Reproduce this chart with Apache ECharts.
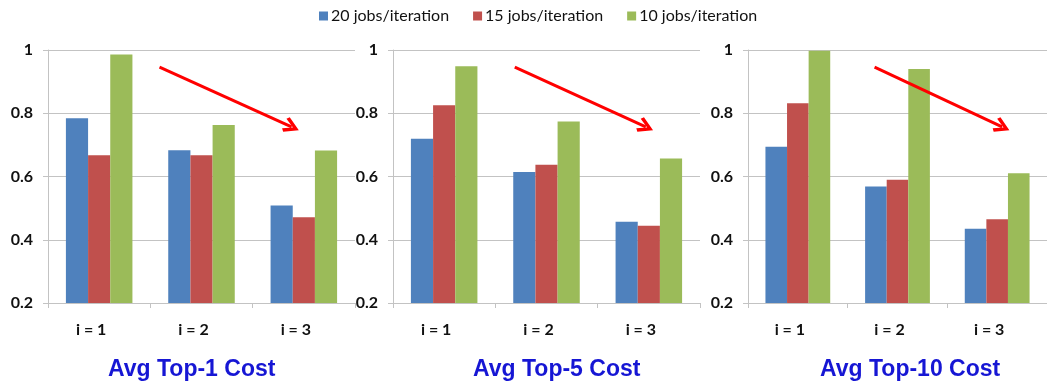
<!DOCTYPE html>
<html>
<head>
<meta charset="utf-8">
<script src="https://cdn.jsdelivr.net/npm/echarts@6/dist/echarts.min.js"></script>
<style>
  html, body { margin: 0; padding: 0; background: #ffffff; }
  #chart { width: 1047px; height: 387px; }
</style>
</head>
<body>
<div id="chart"></div>
<script>
// Categories (iterations) and y-axis range
const categories = ['i = 1', 'i = 2', 'i = 3'];
const yMin = 0.2, yMax = 1, yStep = 0.2;

// Series names
const seriesNames = ['20 jobs/iteration', '15 jobs/iteration', '10 jobs/iteration'];
const seriesColors = ['#4f81bd', '#c0504d', '#9bbb59'];

// Panel titles
const panelTitles = ['Avg Top-1 Cost', 'Avg Top-5 Cost', 'Avg Top-10 Cost'];

// Average cost values per panel: [20 jobs, 15 jobs, 10 jobs], each over i = 1..3
const top1Jobs20 = [0.784, 0.683, 0.508];
const top1Jobs15 = [0.667, 0.667, 0.471];
const top1Jobs10 = [0.986, 0.763, 0.682];

const top5Jobs20 = [0.719, 0.614, 0.457];
const top5Jobs15 = [0.825, 0.637, 0.444];
const top5Jobs10 = [0.949, 0.774, 0.657];

const top10Jobs20 = [0.694, 0.568, 0.435];
const top10Jobs15 = [0.832, 0.590, 0.465];
const top10Jobs10 = [0.998, 0.940, 0.610];

const panelData = [
  [top1Jobs20, top1Jobs15, top1Jobs10],
  [top5Jobs20, top5Jobs15, top5Jobs10],
  [top10Jobs20, top10Jobs15, top10Jobs10]
];

// Trend arrows per panel, in data units (x: 0..3 across the categories, y: cost)
const trendArrows = [
  [[1.09, 0.946], [2.38, 0.757]],
  [[1.19, 0.946], [2.47, 0.757]],
  [[1.27, 0.946], [2.55, 0.757]]
];

// Layout
const gridLefts = [48, 393, 748];
const gridWidth = 307;
const gridTop = 50;
const gridHeight = 253;
const titleLefts = [108, 473, 820];

const labelFont = 'Lato, "Open Sans", sans-serif';
const gridColor = '#c3c3c3';

// Open chevron arrowhead pointing up (rotated along the line by ECharts)
const chevron = 'path://M5,0 L10,8 L8.3,9.4 L5,3.8 L1.7,9.4 L0,8 Z';

const grids = [], xAxes = [], yAxes = [], series = [], titles = [];

gridLefts.forEach(function (left, p) {
  grids.push({ left: left, top: gridTop, width: gridWidth, height: gridHeight });

  xAxes.push({
    type: 'category',
    gridIndex: p,
    data: categories,
    axisLine: { lineStyle: { color: gridColor, width: 1 } },
    axisTick: { show: true, length: 5, lineStyle: { color: gridColor } },
    axisLabel: {
      fontFamily: labelFont, fontWeight: 'bold', fontSize: 16, color: '#111111',
      margin: 19, padding: [0, 16, 0, 0]
    }
  });

  yAxes.push({
    type: 'value',
    gridIndex: p,
    min: yMin, max: yMax, interval: yStep,
    axisLine: { show: true, lineStyle: { color: gridColor } },
    axisTick: { show: true, length: 5, lineStyle: { color: gridColor } },
    splitLine: { lineStyle: { color: gridColor, width: 1 } },
    axisLabel: {
      fontFamily: labelFont, fontWeight: 'bold', fontSize: 16, color: '#111111',
      margin: 15
    }
  });

  panelData[p].forEach(function (values, s) {
    series.push({
      name: seriesNames[s],
      type: 'bar',
      xAxisIndex: p,
      yAxisIndex: p,
      data: values,
      barGap: '0%',
      barCategoryGap: '35%',
      itemStyle: { color: seriesColors[s] },
      emphasis: { disabled: true }
    });
  });

  titles.push({
    text: panelTitles[p],
    left: titleLefts[p],
    top: 358,
    padding: 0,
    textStyle: {
      fontFamily: '"Liberation Sans", Arial, sans-serif',
      fontWeight: 'bold', fontSize: 23, color: '#1616d4'
    }
  });
});

// Hidden value x axes (0..3 spans the three categories) for the trend arrows
gridLefts.forEach(function (left, p) {
  xAxes.push({ type: 'value', gridIndex: p, min: 0, max: 3, show: false });
  series.push({
    type: 'lines',
    coordinateSystem: 'cartesian2d',
    xAxisIndex: 3 + p,
    yAxisIndex: p,
    symbol: ['none', chevron],
    symbolSize: [16, 16],
    lineStyle: { color: '#ff0000', width: 3, opacity: 1 },
    data: [{ coords: trendArrows[p] }],
    silent: true,
    z: 5
  });
});

const chart = echarts.init(document.getElementById('chart'), null, { renderer: 'canvas' });
chart.setOption({
  animation: false,
  backgroundColor: '#ffffff',
  title: titles,
  legend: {
    data: seriesNames,
    left: 314,
    top: 3,
    itemWidth: 9,
    itemHeight: 9,
    itemGap: 24,
    icon: 'rect',
    textStyle: { fontFamily: labelFont, fontSize: 16, color: '#111111', padding: [0, 0, 0, -2] }
  },
  grid: grids,
  xAxis: xAxes,
  yAxis: yAxes,
  series: series
});
</script>
</body>
</html>
